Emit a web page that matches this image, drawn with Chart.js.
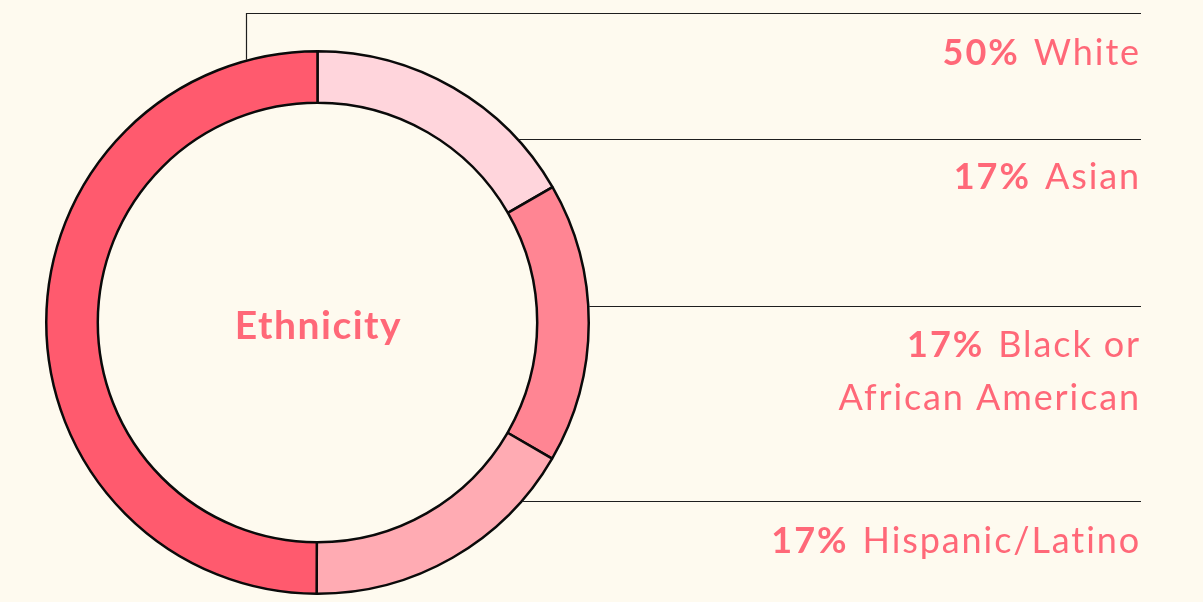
<!DOCTYPE html>
<html>
<head>
<meta charset="utf-8">
<script src="https://cdn.jsdelivr.net/npm/chart.js@4/dist/chart.umd.min.js"></script>
<style>
  html, body { margin: 0; padding: 0; background: #fefaef; }
  #wrap { width: 1203px; height: 602px; position: relative; }
</style>
</head>
<body>
<div id="wrap"><canvas id="ethnicityChart" width="1203" height="602"></canvas></div>
<script>
// Data (arc order: clockwise from 12 o'clock)
const categories = ["Asian", "Black or African American", "Hispanic/Latino", "White"];
const shares = [16.7, 16.7, 16.7, 50];
const sliceColors = ["#ffd5dc", "#ff8593", "#ffabb3", "#ff5a6e"];
const centerTitle = "Ethnicity";

// label rows on the right: line y and text baselines (layout only)
const labelRows = [
  { idx: 3, lineY: 13, lines: ["White"], baselines: [65], vertical: true },
  { idx: 0, lineY: 139, lines: ["Asian"], baselines: [189] },
  { idx: 1, lineY: 306, lines: ["Black or", "African American"], baselines: [357, 410] },
  { idx: 2, lineY: 501, lines: ["Hispanic/Latino"], baselines: [553] },
];

(() => {
  "use strict";

  const TEXT = "#ff6878";
  const RIGHT = 1141;
  const FONT = "Lato, 'Open Sans', sans-serif";

  const leaderPlugin = {
    id: "leaders",
    afterDatasetsDraw(chart) {
      const ctx = chart.ctx;
      const arc = chart.getDatasetMeta(0).data[0];
      if (!arc) return;
      const cx = arc.x, cy = arc.y, R = arc.outerRadius + 1;

      ctx.save();
      ctx.strokeStyle = "#1e1e1e";
      ctx.lineWidth = 1.2;

      labelRows.forEach((row) => {
        ctx.beginPath();
        if (row.vertical) {
          const vx = 246.5;
          const vy = cy - Math.sqrt(R * R - (vx - cx) * (vx - cx));
          ctx.moveTo(vx, vy);
          ctx.lineTo(vx, row.lineY + 0.5);
          ctx.lineTo(RIGHT, row.lineY + 0.5);
        } else {
          const dy = row.lineY - cy;
          const x0 = cx + Math.sqrt(Math.max(0, R * R - dy * dy));
          ctx.moveTo(x0, row.lineY + 0.5);
          ctx.lineTo(RIGHT, row.lineY + 0.5);
        }
        ctx.stroke();

        // right-aligned text; first line gets bold percentage
        ctx.fillStyle = TEXT;
        ctx.textBaseline = "alphabetic";
        ctx.textAlign = "left";
        row.lines.forEach((txt, i) => {
          const y = row.baselines[i];
          ctx.font = "400 36px " + FONT;
          ctx.letterSpacing = "1.9px";
          const wTxt = ctx.measureText(txt).width;
          if (i === 0) {
            const pct = Math.round(shares[row.idx]) + "%";
            ctx.font = "700 36px " + FONT;
            ctx.letterSpacing = "2px";
            const wPct = ctx.measureText(pct).width + 14;
            const x0 = RIGHT - wTxt - wPct;
            ctx.fillText(pct, x0, y);
            ctx.font = "400 36px " + FONT;
            ctx.letterSpacing = "1.9px";
            ctx.fillText(txt, x0 + wPct, y);
          } else {
            ctx.fillText(txt, RIGHT - wTxt, y);
          }
        });
      });

      // centre title
      ctx.font = "700 39px " + FONT;
      ctx.letterSpacing = "1.5px";
      ctx.textAlign = "center";
      ctx.fillText(centerTitle, cx + 1, 339);
      ctx.restore();
    },
  };

  new Chart(document.getElementById("ethnicityChart"), {
    type: "doughnut",
    data: {
      labels: categories,
      datasets: [
        {
          data: shares,
          backgroundColor: sliceColors,
          borderColor: "#0a0a0a",
          borderWidth: 2.5,
          hoverOffset: 0,
        },
      ],
    },
    options: {
      responsive: false,
      animation: false,
      cutout: "81%",
      rotation: 0,
      layout: { padding: { left: 45, right: 613, top: 50, bottom: 7 } },
      plugins: { legend: { display: false }, tooltip: { enabled: false } },
      events: [],
    },
    plugins: [leaderPlugin],
  });
})();
</script>
</body>
</html>
